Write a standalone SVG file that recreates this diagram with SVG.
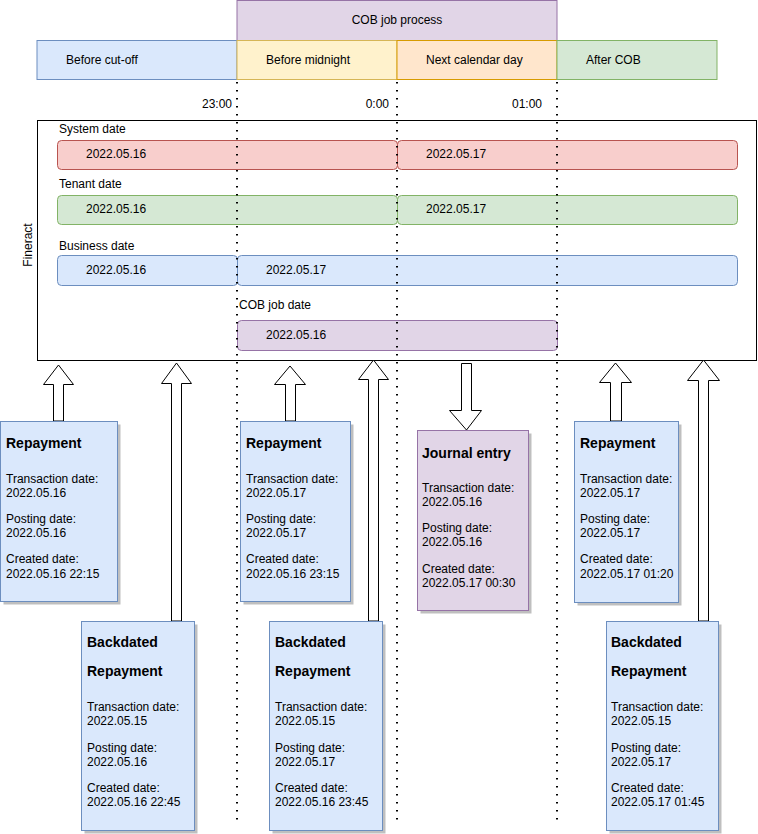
<svg xmlns="http://www.w3.org/2000/svg" width="758" height="834" viewBox="0 0 758 834">
<style>
text{font-family:"Liberation Sans",Arial,sans-serif;font-size:12px;fill:#000}
.b{font-weight:bold;font-size:14px}
.blue{fill:#dae8fc;stroke:#6c8ebf}
.red{fill:#f8cecc;stroke:#b85450}
.green{fill:#d5e8d4;stroke:#82b366}
.purple{fill:#e1d5e7;stroke:#9673a6}
.yellow{fill:#fff2cc;stroke:#d6b656}
.orange{fill:#ffe6cc;stroke:#d79b00}
.dot{stroke:#000;stroke-width:2;stroke-dasharray:1.5 6.5;fill:none}
.arr{fill:#fff;stroke:#000;stroke-width:1}
.sh{fill:#000;opacity:0.25}
</style>
<rect width="758" height="834" fill="#fff"/>
<g id="header">
<g id="cob-process"><rect class="purple" x="237" y="0.5" width="320" height="40"/><text x="397" y="24" text-anchor="middle">COB job process</text></g>
<g id="before-cutoff"><rect class="blue" x="37" y="40.5" width="200" height="39"/><text x="66" y="64">Before cut-off</text></g>
<g id="before-midnight"><rect class="yellow" x="237" y="40.5" width="160" height="39"/><text x="266" y="64">Before midnight</text></g>
<g id="next-day"><rect class="orange" x="397" y="40.5" width="160" height="39"/><text x="426" y="64">Next calendar day</text></g>
<g id="after-cob"><rect class="green" x="557" y="40.5" width="160" height="39"/><text x="586" y="64">After COB</text></g>
<text x="232" y="108" text-anchor="end">23:00</text>
<text x="389" y="108" text-anchor="end">0:00</text>
<text x="542" y="108" text-anchor="end">01:00</text>
</g>
<g id="fineract">
<rect x="37.5" y="120.5" width="719" height="240" fill="#fff" stroke="#000"/>
<text transform="translate(32,245) rotate(-90)" text-anchor="middle">Fineract</text>
<text x="59" y="133">System date</text>
<g id="sys1"><rect class="red" x="57.5" y="140.5" width="340" height="29" rx="4"/><text x="86" y="158">2022.05.16</text></g>
<g id="sys2"><rect class="red" x="397.5" y="140.5" width="340" height="29" rx="4"/><text x="426" y="158">2022.05.17</text></g>
<text x="59" y="188">Tenant date</text>
<g id="ten1"><rect class="green" x="57.5" y="195.5" width="340" height="29" rx="4"/><text x="86" y="213">2022.05.16</text></g>
<g id="ten2"><rect class="green" x="397.5" y="195.5" width="340" height="29" rx="4"/><text x="426" y="213">2022.05.17</text></g>
<text x="59" y="250">Business date</text>
<g id="bus1"><rect class="blue" x="57.5" y="255.5" width="180" height="30" rx="4"/><text x="86" y="274">2022.05.16</text></g>
<g id="bus2"><rect class="blue" x="237.5" y="255.5" width="500" height="30" rx="4"/><text x="266" y="274">2022.05.17</text></g>
<text x="239" y="309">COB job date</text>
<g id="cob1"><rect class="purple" x="237.5" y="320.5" width="320" height="30" rx="4"/><text x="266" y="339">2022.05.16</text></g>
</g>
<g id="dotted">
<line class="dot" x1="237" y1="82" x2="237" y2="824"/>
<line class="dot" x1="397" y1="82" x2="397" y2="824"/>
<line class="dot" x1="557" y1="82" x2="557" y2="824"/>
</g>
<g id="connectors">
<path class="arr" d="M53.5,421 V384.5 H43.5 L58.5,365 L73.5,384.5 H63.5 V421 Z"/>
<path class="arr" d="M171.5,621 V383.5 H161.5 L176.5,363 L191.5,383.5 H181.5 V621 Z"/>
<path class="arr" d="M285.5,421 V384.5 H274.5 L290,366 L305.5,384.5 H295.5 V421 Z"/>
<path class="arr" d="M368.5,621 V379.5 H358.5 L373.5,360 L388.5,379.5 H378.5 V621 Z"/>
<path class="arr" d="M461.5,363.5 H471.5 V410.5 H481.5 L466.5,430 L449.5,410.5 H461.5 Z"/>
<path class="arr" d="M610.5,421 V382.5 H599.5 L615.5,363 L631.5,382.5 H621.5 V421 Z"/>
<path class="arr" d="M698.5,621 V380.5 H687.5 L703.5,360 L719.5,380.5 H708.5 V621 Z"/>
</g>
<g id="card-rep1">
<rect class="sh" x="3.5" y="424.5" width="117" height="180"/>
<rect class="blue" x="0.5" y="421.5" width="117" height="180"/>
<text class="b" x="6" y="448">Repayment</text>
<text x="6" y="483">Transaction date:</text><text x="6" y="497">2022.05.16</text>
<text x="6" y="523">Posting date:</text><text x="6" y="537">2022.05.16</text>
<text x="6" y="563">Created date:</text><text x="6" y="578">2022.05.16 22:15</text>
</g>
<g id="card-rep2">
<rect class="sh" x="243.5" y="424.5" width="110" height="180"/>
<rect class="blue" x="240.5" y="421.5" width="110" height="180"/>
<text class="b" x="246" y="448">Repayment</text>
<text x="246" y="483">Transaction date:</text><text x="246" y="497">2022.05.17</text>
<text x="246" y="523">Posting date:</text><text x="246" y="537">2022.05.17</text>
<text x="246" y="563">Created date:</text><text x="246" y="578">2022.05.16 23:15</text>
</g>
<g id="card-journal">
<rect class="sh" x="420.5" y="433.5" width="111" height="180"/>
<rect class="purple" x="417.5" y="430.5" width="111" height="180"/>
<text class="b" x="422" y="458">Journal entry</text>
<text x="422" y="492">Transaction date:</text><text x="422" y="506">2022.05.16</text>
<text x="422" y="532">Posting date:</text><text x="422" y="546">2022.05.16</text>
<text x="422" y="573">Created date:</text><text x="422" y="587">2022.05.17 00:30</text>
</g>
<g id="card-rep3">
<rect class="sh" x="577.5" y="424.5" width="104" height="181"/>
<rect class="blue" x="574.5" y="421.5" width="104" height="181"/>
<text class="b" x="580" y="448">Repayment</text>
<text x="580" y="483">Transaction date:</text><text x="580" y="497">2022.05.17</text>
<text x="580" y="523">Posting date:</text><text x="580" y="537">2022.05.17</text>
<text x="580" y="563">Created date:</text><text x="580" y="578">2022.05.17 01:20</text>
</g>
<g id="card-back1">
<rect class="sh" x="84.5" y="624.5" width="113" height="209"/>
<rect class="blue" x="81.5" y="621.5" width="113" height="209"/>
<text class="b" x="87" y="647">Backdated</text>
<text class="b" x="87" y="676">Repayment</text>
<text x="87" y="711">Transaction date:</text><text x="87" y="725">2022.05.15</text>
<text x="87" y="752">Posting date:</text><text x="87" y="766">2022.05.16</text>
<text x="87" y="792">Created date:</text><text x="87" y="806">2022.05.16 22:45</text>
</g>
<g id="card-back2">
<rect class="sh" x="272.5" y="624.5" width="113" height="209"/>
<rect class="blue" x="269.5" y="621.5" width="113" height="209"/>
<text class="b" x="275" y="647">Backdated</text>
<text class="b" x="275" y="676">Repayment</text>
<text x="275" y="711">Transaction date:</text><text x="275" y="725">2022.05.15</text>
<text x="275" y="752">Posting date:</text><text x="275" y="766">2022.05.17</text>
<text x="275" y="792">Created date:</text><text x="275" y="806">2022.05.16 23:45</text>
</g>
<g id="card-back3">
<rect class="sh" x="609.5" y="624.5" width="112" height="209"/>
<rect class="blue" x="606.5" y="621.5" width="112" height="209"/>
<text class="b" x="611" y="647">Backdated</text>
<text class="b" x="611" y="676">Repayment</text>
<text x="611" y="711">Transaction date:</text><text x="611" y="725">2022.05.15</text>
<text x="611" y="752">Posting date:</text><text x="611" y="766">2022.05.17</text>
<text x="611" y="792">Created date:</text><text x="611" y="806">2022.05.17 01:45</text>
</g>
</svg>
